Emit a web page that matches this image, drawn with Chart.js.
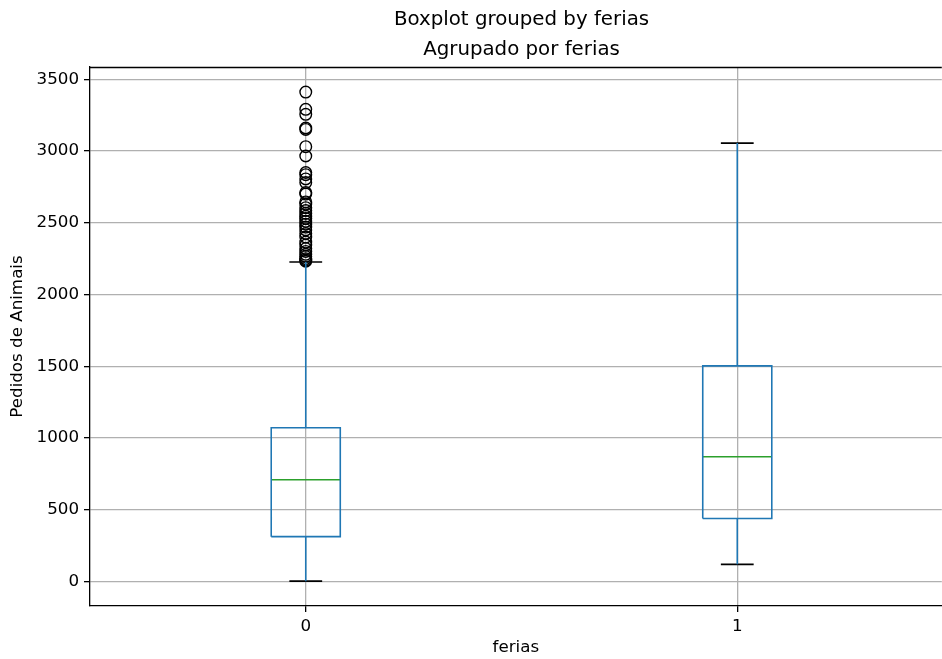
<!DOCTYPE html>
<html>
<head>
<meta charset="utf-8">
<script src="https://cdn.jsdelivr.net/npm/chart.js@4"></script>
<style>
  html, body { margin: 0; padding: 0; background: #fff; overflow: hidden; }
  #wrap { width: 949px; height: 659px; }
</style>
</head>
<body>
<div id="wrap"><canvas id="boxChart"></canvas></div>
<script>
// dados do boxplot
const categories = ['0', '1'];
const whiskerLow = [3, 120];
const q1 = [313, 440];
const median = [710, 870];
const q3 = [1072, 1503];
const whiskerHigh = [2227, 3055];
const outliers0 = [3410, 3290, 3255, 3160, 3150, 3030, 2965, 2850, 2835, 2805, 2780,
    2710, 2700, 2645, 2630, 2605, 2585, 2565, 2545, 2530, 2510, 2490, 2470, 2450,
    2425, 2400, 2365, 2345, 2320, 2300, 2280, 2265, 2250, 2240, 2232];
const outliers1 = [];
const yTicks = [0, 500, 1000, 1500, 2000, 2500, 3000, 3500];

const BLUE = '#1f77b4';
const GREEN = '#2ca02c';
const boxHalf = 0.08;
const capHalf = 0.038;

// posicoes das caixas no eixo x (1, 2, ...)
const pos = categories.map((c, i) => i + 1);

const boxPts = [], whiskerPts = [], capPts = [], medianPts = [], flierPts = [];
pos.forEach((x, i) => {
    boxPts.push({x: x - boxHalf, y: q1[i]}, {x: x + boxHalf, y: q1[i]},
        {x: x + boxHalf, y: q3[i]}, {x: x - boxHalf, y: q3[i]},
        {x: x - boxHalf, y: q1[i]}, {x: x, y: null});
    whiskerPts.push({x: x, y: q1[i]}, {x: x, y: whiskerLow[i]}, {x: x, y: null},
        {x: x, y: q3[i]}, {x: x, y: whiskerHigh[i]}, {x: x, y: null});
    capPts.push({x: x - capHalf, y: whiskerLow[i]}, {x: x + capHalf, y: whiskerLow[i]}, {x: x, y: null},
        {x: x - capHalf, y: whiskerHigh[i]}, {x: x + capHalf, y: whiskerHigh[i]}, {x: x, y: null});
    medianPts.push({x: x - boxHalf, y: median[i]}, {x: x + boxHalf, y: median[i]}, {x: x, y: null});
});
[outliers0, outliers1].forEach((arr, i) => arr.forEach(v => flierPts.push({x: pos[i], y: v})));

const segLine = (data, color) => ({
    data: data,
    borderColor: color,
    borderWidth: 1.6,
    pointRadius: 0,
    spanGaps: false,
    fill: false,
    tension: 0
});

// titulos e borda superior
const titlesPlugin = {
    id: 'titles',
    afterDraw(chart) {
        const {ctx, chartArea, scales} = chart;
        const cx = scales.x.getPixelForValue(1.5);
        ctx.save();
        ctx.fillStyle = '#000';
        ctx.textAlign = 'center';
        ctx.textBaseline = 'middle';
        ctx.font = '19.8px "DejaVu Sans"';
        ctx.fillText('Boxplot grouped by ferias', cx, 20);
        ctx.fillText('Agrupado por ferias', cx, 50);
        ctx.strokeStyle = '#000';
        ctx.lineWidth = 1.3;
        ctx.beginPath();
        ctx.moveTo(chartArea.left, chartArea.top + 0.5);
        ctx.lineTo(chartArea.right, chartArea.top + 0.5);
        ctx.stroke();
        ctx.restore();
    }
};

Chart.defaults.font.family = '"DejaVu Sans"';
Chart.defaults.color = '#000';

new Chart(document.getElementById('boxChart'), {
    type: 'line',
    data: {
        datasets: [
            segLine(whiskerPts, BLUE),
            segLine(capPts, '#000'),
            segLine(boxPts, BLUE),
            segLine(medianPts, GREEN),
            {
                data: flierPts,
                showLine: false,
                pointStyle: 'circle',
                pointRadius: 5.8,
                pointBorderWidth: 1.4,
                pointBorderColor: '#000',
                pointBackgroundColor: 'rgba(0,0,0,0)'
            }
        ]
    },
    options: {
        responsive: true,
        maintainAspectRatio: false,
        animation: false,
        layout: { padding: { top: 67, left: 0, right: 0, bottom: 0 } },
        plugins: {
            legend: { display: false },
            tooltip: { enabled: false },
            title: { display: false }
        },
        scales: {
            x: {
                type: 'linear',
                min: 0.5,
                max: 2.474,
                afterBuildTicks: axis => { axis.ticks = pos.map(v => ({value: v})); },
                afterFit: axis => {
                    axis.height = 53;
                    axis.paddingLeft = 0;
                    axis.paddingRight = 0;
                },
                ticks: {
                    font: { size: 16.7 },
                    padding: 5,
                    callback: v => categories[v - 1]
                },
                grid: { color: '#b0b0b0', lineWidth: 1.3, tickColor: '#000', tickLength: 6 },
                border: { color: '#000', width: 1.3 },
                title: { display: true, text: 'ferias', font: { size: 16.7 }, padding: { top: 2, bottom: 1 } }
            },
            y: {
                type: 'linear',
                min: -170,
                max: 3585,
                afterBuildTicks: axis => { axis.ticks = yTicks.map(v => ({value: v})); },
                afterFit: axis => { axis.width = 90; },
                ticks: { font: { size: 16.7 }, padding: 5, callback: v => String(v) },
                grid: { color: '#b0b0b0', lineWidth: 1.3, tickColor: '#000', tickLength: 6 },
                border: { color: '#000', width: 1.3 },
                title: { display: true, text: 'Pedidos de Animais', font: { size: 16.7 }, padding: { top: 8, bottom: 2 } }
            }
        }
    },
    plugins: [titlesPlugin]
});
</script>
</body>
</html>
